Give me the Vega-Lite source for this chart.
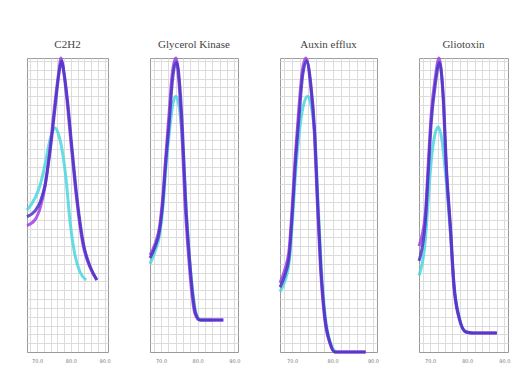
{
  "$schema": "https://vega.github.io/schema/vega-lite/v6.json",
  "background": "white",
  "padding": {"left": 20, "top": 38, "right": 0, "bottom": 0},
  "datasets": {
    "d": [
      {"p":1,"s":"a","t":67,"f":0.483},{"p":1,"s":"a","t":69.4,"f":0.524},{"p":1,"s":"a","t":70.9,"f":0.568},{"p":1,"s":"a","t":72.3,"f":0.636},{"p":1,"s":"a","t":73.8,"f":0.721},{"p":1,"s":"a","t":75.3,"f":0.762},{"p":1,"s":"a","t":76.2,"f":0.745},{"p":1,"s":"a","t":77.4,"f":0.687},{"p":1,"s":"a","t":78.6,"f":0.585},{"p":1,"s":"a","t":79.7,"f":0.449},{"p":1,"s":"a","t":81.2,"f":0.33},{"p":1,"s":"a","t":82.7,"f":0.272},{"p":1,"s":"a","t":84.5,"f":0.245},
      {"p":1,"s":"b","t":67,"f":0.43},{"p":1,"s":"b","t":69.4,"f":0.45},{"p":1,"s":"b","t":70.9,"f":0.49},{"p":1,"s":"b","t":72.3,"f":0.56},{"p":1,"s":"b","t":73.8,"f":0.69},{"p":1,"s":"b","t":75.3,"f":0.85},{"p":1,"s":"b","t":76.5,"f":0.96},{"p":1,"s":"b","t":77.0,"f":1.0},{"p":1,"s":"b","t":77.9,"f":0.95},{"p":1,"s":"b","t":78.8,"f":0.86},{"p":1,"s":"b","t":80.2,"f":0.69},{"p":1,"s":"b","t":81.7,"f":0.52},{"p":1,"s":"b","t":83.5,"f":0.37},{"p":1,"s":"b","t":85.6,"f":0.29},{"p":1,"s":"b","t":87.7,"f":0.245},
      {"p":1,"s":"c","t":67,"f":0.46},{"p":1,"s":"c","t":69.4,"f":0.48},{"p":1,"s":"c","t":70.9,"f":0.51},{"p":1,"s":"c","t":72.3,"f":0.565},{"p":1,"s":"c","t":73.8,"f":0.68},{"p":1,"s":"c","t":75.3,"f":0.83},{"p":1,"s":"c","t":76.5,"f":0.95},{"p":1,"s":"c","t":77.2,"f":0.99},{"p":1,"s":"c","t":78.1,"f":0.94},{"p":1,"s":"c","t":79.0,"f":0.855},{"p":1,"s":"c","t":80.4,"f":0.685},{"p":1,"s":"c","t":81.9,"f":0.515},{"p":1,"s":"c","t":83.7,"f":0.37},{"p":1,"s":"c","t":85.8,"f":0.288},{"p":1,"s":"c","t":87.7,"f":0.245},

      {"p":2,"s":"a","t":67,"f":0.30},{"p":2,"s":"a","t":68.3,"f":0.34},{"p":2,"s":"a","t":69.7,"f":0.405},{"p":2,"s":"a","t":70.5,"f":0.49},{"p":2,"s":"a","t":71.3,"f":0.62},{"p":2,"s":"a","t":72.3,"f":0.75},{"p":2,"s":"a","t":73.2,"f":0.84},{"p":2,"s":"a","t":74.0,"f":0.87},{"p":2,"s":"a","t":74.5,"f":0.86},{"p":2,"s":"a","t":75.3,"f":0.8},{"p":2,"s":"a","t":76.1,"f":0.67},{"p":2,"s":"a","t":76.9,"f":0.48},{"p":2,"s":"a","t":77.9,"f":0.3},{"p":2,"s":"a","t":78.8,"f":0.19},{"p":2,"s":"a","t":79.6,"f":0.13},{"p":2,"s":"a","t":80.9,"f":0.109},{"p":2,"s":"a","t":84,"f":0.109},
      {"p":2,"s":"b","t":67,"f":0.33},{"p":2,"s":"b","t":68.3,"f":0.365},{"p":2,"s":"b","t":69.7,"f":0.435},{"p":2,"s":"b","t":70.5,"f":0.53},{"p":2,"s":"b","t":71.3,"f":0.665},{"p":2,"s":"b","t":72.2,"f":0.81},{"p":2,"s":"b","t":73.0,"f":0.94},{"p":2,"s":"b","t":73.8,"f":0.995},{"p":2,"s":"b","t":74.1,"f":1.0},{"p":2,"s":"b","t":74.9,"f":0.915},{"p":2,"s":"b","t":75.7,"f":0.745},{"p":2,"s":"b","t":76.5,"f":0.517},{"p":2,"s":"b","t":77.6,"f":0.313},{"p":2,"s":"b","t":78.4,"f":0.2},{"p":2,"s":"b","t":79.2,"f":0.133},{"p":2,"s":"b","t":80.5,"f":0.109},{"p":2,"s":"b","t":83.8,"f":0.109},{"p":2,"s":"b","t":87.0,"f":0.109},
      {"p":2,"s":"c","t":67,"f":0.32},{"p":2,"s":"c","t":68.3,"f":0.355},{"p":2,"s":"c","t":69.7,"f":0.42},{"p":2,"s":"c","t":70.5,"f":0.51},{"p":2,"s":"c","t":71.3,"f":0.645},{"p":2,"s":"c","t":72.3,"f":0.79},{"p":2,"s":"c","t":73.1,"f":0.92},{"p":2,"s":"c","t":73.9,"f":0.98},{"p":2,"s":"c","t":74.3,"f":0.985},{"p":2,"s":"c","t":75.1,"f":0.91},{"p":2,"s":"c","t":75.9,"f":0.745},{"p":2,"s":"c","t":76.7,"f":0.517},{"p":2,"s":"c","t":77.8,"f":0.313},{"p":2,"s":"c","t":78.6,"f":0.2},{"p":2,"s":"c","t":79.4,"f":0.133},{"p":2,"s":"c","t":80.7,"f":0.109},{"p":2,"s":"c","t":83.8,"f":0.109},{"p":2,"s":"c","t":87.0,"f":0.109},

      {"p":3,"s":"a","t":67,"f":0.205},{"p":3,"s":"a","t":68.3,"f":0.245},{"p":3,"s":"a","t":69.3,"f":0.31},{"p":3,"s":"a","t":70.0,"f":0.43},{"p":3,"s":"a","t":70.8,"f":0.6},{"p":3,"s":"a","t":71.8,"f":0.75},{"p":3,"s":"a","t":72.8,"f":0.84},{"p":3,"s":"a","t":73.9,"f":0.87},{"p":3,"s":"a","t":74.8,"f":0.83},{"p":3,"s":"a","t":75.7,"f":0.72},{"p":3,"s":"a","t":76.4,"f":0.51},{"p":3,"s":"a","t":77.2,"f":0.29},{"p":3,"s":"a","t":78.2,"f":0.12},{"p":3,"s":"a","t":79.5,"f":0.03},{"p":3,"s":"a","t":80.7,"f":0.0},
      {"p":3,"s":"b","t":67,"f":0.235},{"p":3,"s":"b","t":68.3,"f":0.285},{"p":3,"s":"b","t":69.3,"f":0.355},{"p":3,"s":"b","t":70.0,"f":0.49},{"p":3,"s":"b","t":70.8,"f":0.67},{"p":3,"s":"b","t":71.7,"f":0.835},{"p":3,"s":"b","t":72.5,"f":0.955},{"p":3,"s":"b","t":73.4,"f":1.0},{"p":3,"s":"b","t":74.5,"f":0.915},{"p":3,"s":"b","t":75.5,"f":0.745},{"p":3,"s":"b","t":76.2,"f":0.517},{"p":3,"s":"b","t":77.0,"f":0.289},{"p":3,"s":"b","t":78.0,"f":0.119},{"p":3,"s":"b","t":79.3,"f":0.031},{"p":3,"s":"b","t":80.5,"f":0.0},{"p":3,"s":"b","t":88.2,"f":0.0},
      {"p":3,"s":"c","t":67,"f":0.22},{"p":3,"s":"c","t":68.3,"f":0.265},{"p":3,"s":"c","t":69.3,"f":0.33},{"p":3,"s":"c","t":70.0,"f":0.46},{"p":3,"s":"c","t":70.8,"f":0.64},{"p":3,"s":"c","t":71.8,"f":0.815},{"p":3,"s":"c","t":72.6,"f":0.94},{"p":3,"s":"c","t":73.6,"f":0.99},{"p":3,"s":"c","t":74.6,"f":0.915},{"p":3,"s":"c","t":75.6,"f":0.745},{"p":3,"s":"c","t":76.3,"f":0.517},{"p":3,"s":"c","t":77.1,"f":0.289},{"p":3,"s":"c","t":78.1,"f":0.119},{"p":3,"s":"c","t":79.4,"f":0.031},{"p":3,"s":"c","t":80.6,"f":0.0},{"p":3,"s":"c","t":88.2,"f":0.0},

      {"p":4,"s":"a","t":67,"f":0.26},{"p":4,"s":"a","t":68.7,"f":0.38},{"p":4,"s":"a","t":69.5,"f":0.52},{"p":4,"s":"a","t":70.3,"f":0.65},{"p":4,"s":"a","t":71.3,"f":0.74},{"p":4,"s":"a","t":72.2,"f":0.765},{"p":4,"s":"a","t":73.2,"f":0.72},{"p":4,"s":"a","t":74.2,"f":0.6},{"p":4,"s":"a","t":75.5,"f":0.4},{"p":4,"s":"a","t":76.4,"f":0.235},{"p":4,"s":"a","t":77.8,"f":0.12},{"p":4,"s":"a","t":79.7,"f":0.068},{"p":4,"s":"a","t":81.5,"f":0.065},
      {"p":4,"s":"b","t":67,"f":0.36},{"p":4,"s":"b","t":68.7,"f":0.47},{"p":4,"s":"b","t":69.5,"f":0.64},{"p":4,"s":"b","t":70.3,"f":0.81},{"p":4,"s":"b","t":71.4,"f":0.935},{"p":4,"s":"b","t":72.4,"f":1.0},{"p":4,"s":"b","t":73.5,"f":0.865},{"p":4,"s":"b","t":74.3,"f":0.635},{"p":4,"s":"b","t":75.5,"f":0.405},{"p":4,"s":"b","t":76.3,"f":0.235},{"p":4,"s":"b","t":77.7,"f":0.119},{"p":4,"s":"b","t":79.6,"f":0.068},{"p":4,"s":"b","t":81.3,"f":0.065},{"p":4,"s":"b","t":88,"f":0.065},
      {"p":4,"s":"c","t":67,"f":0.31},{"p":4,"s":"c","t":68.7,"f":0.44},{"p":4,"s":"c","t":69.5,"f":0.61},{"p":4,"s":"c","t":70.3,"f":0.78},{"p":4,"s":"c","t":71.4,"f":0.91},{"p":4,"s":"c","t":72.5,"f":0.985},{"p":4,"s":"c","t":73.6,"f":0.857},{"p":4,"s":"c","t":74.4,"f":0.629},{"p":4,"s":"c","t":75.6,"f":0.405},{"p":4,"s":"c","t":76.4,"f":0.235},{"p":4,"s":"c","t":77.8,"f":0.119},{"p":4,"s":"c","t":79.7,"f":0.068},{"p":4,"s":"c","t":81.3,"f":0.065},{"p":4,"s":"c","t":88,"f":0.065}
    ]
  },
  "data": {"name": "d"},
  "config": {
    "concat": {"spacing": 32},
    "view": {"stroke": "#9a9a9a", "strokeWidth": 1},
    "title": {"font": "Liberation Serif", "fontSize": 11, "fontWeight": "normal", "color": "#444444", "offset": 2},
    "axis": {"gridColor": "#dcdcdc", "gridWidth": 1, "ticks": false, "labelFont": "DejaVu Sans", "labelFontSize": 5, "labelColor": "#777777", "domainColor": "#9a9a9a"}
  },
  "hconcat": [
    {
      "title": "C2H2", "width": 81, "height": 294,
      "transform": [{"filter": "datum.p == 1"}],
      "mark": {"type": "line", "strokeWidth": 3, "opacity": 0.85, "interpolate": "monotone"},
      "encoding": {
        "x": {"field": "t", "type": "quantitative", "scale": {"domain": [67, 91], "nice": false, "zero": false}, "axis": {"title": null, "values": [68,70,72,74,76,78,80,82,84,86,88,90], "labelExpr": "datum.value % 10 == 0 ? format(datum.value, '.1f') : ''", "labelPadding": 6}},
        "y": {"field": "f", "type": "quantitative", "scale": {"domain": [0, 1], "nice": false}, "axis": {"title": null, "labels": false, "domain": false, "minExtent": 0, "maxExtent": 0, "values": [0,0.03,0.06,0.09,0.12,0.15,0.18,0.21,0.24,0.27,0.3,0.33,0.36,0.39,0.42,0.45,0.48,0.51,0.54,0.57,0.6,0.63,0.66,0.69,0.72,0.75,0.78,0.81,0.84,0.87,0.9,0.93,0.96,0.99]}},
        "color": {"field": "s", "type": "nominal", "scale": {"domain": ["a","b","c"], "range": ["#4cd6e0","#a03ee6","#4a34c4"]}, "legend": null}
      }
    },
    {
      "title": "Glycerol Kinase", "width": 88, "height": 294,
      "transform": [{"filter": "datum.p == 2"}],
      "mark": {"type": "line", "strokeWidth": 3, "opacity": 0.85, "interpolate": "monotone"},
      "encoding": {
        "x": {"field": "t", "type": "quantitative", "scale": {"domain": [67, 91], "nice": false, "zero": false}, "axis": {"title": null, "values": [68,70,72,74,76,78,80,82,84,86,88,90], "labelExpr": "datum.value % 10 == 0 ? format(datum.value, '.1f') : ''", "labelPadding": 6}},
        "y": {"field": "f", "type": "quantitative", "scale": {"domain": [0, 1], "nice": false}, "axis": {"title": null, "labels": false, "domain": false, "minExtent": 0, "maxExtent": 0, "values": [0,0.03,0.06,0.09,0.12,0.15,0.18,0.21,0.24,0.27,0.3,0.33,0.36,0.39,0.42,0.45,0.48,0.51,0.54,0.57,0.6,0.63,0.66,0.69,0.72,0.75,0.78,0.81,0.84,0.87,0.9,0.93,0.96,0.99]}},
        "color": {"field": "s", "type": "nominal", "scale": {"domain": ["a","b","c"], "range": ["#4cd6e0","#a03ee6","#4a34c4"]}, "legend": null}
      }
    },
    {
      "title": "Auxin efflux", "width": 97, "height": 294,
      "transform": [{"filter": "datum.p == 3"}],
      "mark": {"type": "line", "strokeWidth": 3, "opacity": 0.85, "interpolate": "monotone"},
      "encoding": {
        "x": {"field": "t", "type": "quantitative", "scale": {"domain": [67, 91], "nice": false, "zero": false}, "axis": {"title": null, "values": [68,70,72,74,76,78,80,82,84,86,88,90], "labelExpr": "datum.value % 10 == 0 ? format(datum.value, '.1f') : ''", "labelPadding": 6}},
        "y": {"field": "f", "type": "quantitative", "scale": {"domain": [0, 1], "nice": false}, "axis": {"title": null, "labels": false, "domain": false, "minExtent": 0, "maxExtent": 0, "values": [0,0.03,0.06,0.09,0.12,0.15,0.18,0.21,0.24,0.27,0.3,0.33,0.36,0.39,0.42,0.45,0.48,0.51,0.54,0.57,0.6,0.63,0.66,0.69,0.72,0.75,0.78,0.81,0.84,0.87,0.9,0.93,0.96,0.99]}},
        "color": {"field": "s", "type": "nominal", "scale": {"domain": ["a","b","c"], "range": ["#4cd6e0","#a03ee6","#4a34c4"]}, "legend": null}
      }
    },
    {
      "title": "Gliotoxin", "width": 89, "height": 294,
      "transform": [{"filter": "datum.p == 4"}],
      "mark": {"type": "line", "strokeWidth": 3, "opacity": 0.85, "interpolate": "monotone"},
      "encoding": {
        "x": {"field": "t", "type": "quantitative", "scale": {"domain": [67, 91], "nice": false, "zero": false}, "axis": {"title": null, "values": [68,70,72,74,76,78,80,82,84,86,88,90], "labelExpr": "datum.value % 10 == 0 ? format(datum.value, '.1f') : ''", "labelPadding": 6}},
        "y": {"field": "f", "type": "quantitative", "scale": {"domain": [0, 1], "nice": false}, "axis": {"title": null, "labels": false, "domain": false, "minExtent": 0, "maxExtent": 0, "values": [0,0.03,0.06,0.09,0.12,0.15,0.18,0.21,0.24,0.27,0.3,0.33,0.36,0.39,0.42,0.45,0.48,0.51,0.54,0.57,0.6,0.63,0.66,0.69,0.72,0.75,0.78,0.81,0.84,0.87,0.9,0.93,0.96,0.99]}},
        "color": {"field": "s", "type": "nominal", "scale": {"domain": ["a","b","c"], "range": ["#4cd6e0","#a03ee6","#4a34c4"]}, "legend": null}
      }
    }
  ]
}
